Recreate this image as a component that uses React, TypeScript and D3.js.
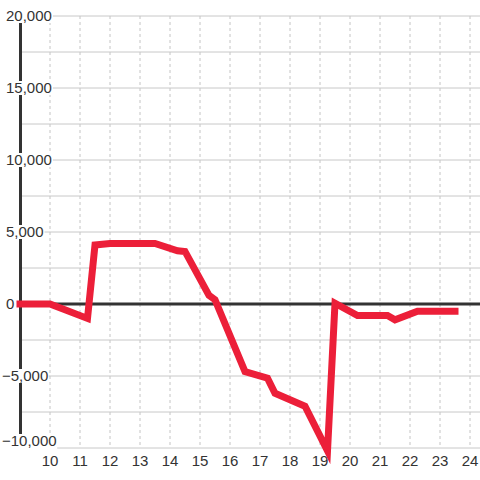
import React from "react";
import * as d3 from "d3";

const xValues = [9, 10, 11.25, 11.5, 12, 13.5, 14.25, 14.5, 15.3, 15.5, 16.5, 17.25, 17.5, 18.5, 19.25, 19.5, 20.25, 21.25, 21.5, 22.25, 23.5];
const yValues = [0, 0, -1000, 4100, 4200, 4200, 3700, 3650, 600, 300, -4700, -5150, -6200, -7100, -10200, 50, -800, -800, -1100, -500, -500];
const xTicks = [10, 11, 12, 13, 14, 15, 16, 17, 18, 19, 20, 21, 22, 23, 24];
const yTicks = [-10000, -5000, 0, 5000, 10000, 15000, 20000];
const yGrid = d3.range(-10000, 20001, 2500);

export default function App() {
  const W = 480, H = 480;
  const x = d3.scaleLinear().domain([10, 24]).range([50, 470]);
  const y = d3.scaleLinear().domain([-10000, 20000]).range([448, 16]);
  const data = xValues.map((v, i) => [v, yValues[i]] as [number, number]);
  const line = d3.line<[number, number]>().x(d => x(d[0])).y(d => y(d[1]));
  const fmt = d3.format(",");
  const font = "'Liberation Sans', Arial, sans-serif";
  const labelW = (s: string) => {
    let w = 0;
    for (const c of s) w += c === "," ? 4.17 : c === "-" ? 5 : 8.34;
    return w;
  };
  return (
    <svg width={W} height={H} style={{ position: "absolute", left: 0, top: 0, background: "#fff" }} fontFamily={font}>
      <rect width={W} height={H} fill="#fff" />
      {xTicks.map(t => (
        <line key={"vx" + t} x1={x(t)} x2={x(t)} y1={16} y2={448} stroke="#c4c4c4" strokeWidth={1} strokeDasharray="3,3" />
      ))}
      {yGrid.map(t => (
        <line key={"hy" + t} x1={20} x2={480} y1={y(t)} y2={y(t)} stroke="#c8c8c8" strokeWidth={1} />
      ))}
      <line x1={20.5} x2={20.5} y1={16} y2={448} stroke="#333" strokeWidth={3} />
      <line x1={20} x2={480} y1={y(0)} y2={y(0)} stroke="#333" strokeWidth={3} />
      {yTicks.map(t => {
        const s = fmt(t);
        const x0 = t < 0 ? 2 : 6;
        const yc = Math.min(y(t), 441);
        return (
          <g key={"yl" + t}>
            {t !== 0 && <rect x={x0 - 1} y={yc - 7} width={labelW(s) + 2} height={t === -10000 ? 15 : 14} fill="#fff" />}
            <text x={x0} y={yc} dy="0.35em" fontSize={15} fill="#333">{s}</text>
          </g>
        );
      })}
      {xTicks.map(t => (
        <text key={"xl" + t} x={x(t)} y={466} textAnchor="middle" fontSize={15} fill="#333">{t}</text>
      ))}
      <path d={line(data) || ""} fill="none" stroke="#ec1f39" strokeWidth={7} strokeLinecap="square" strokeLinejoin="miter" />
    </svg>
  );
}
